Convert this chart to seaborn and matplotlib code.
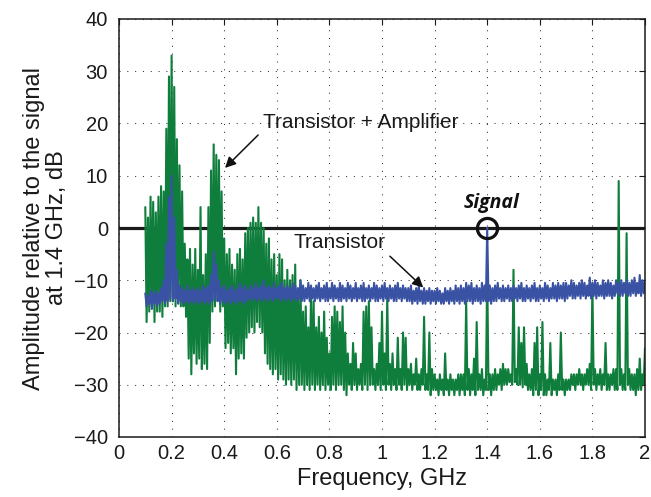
import numpy as np
import pandas as pd
import matplotlib
matplotlib.use("Agg")
import matplotlib.pyplot as plt
import seaborn as sns

# ---------------- data ----------------
freq = np.round(np.arange(10, 201) / 100.0, 2)  # GHz sampling grid 0.10 .. 2.00

green_hi = [
    4, 2, 6, 5, 3, 6, 8, 7, 19, 29,
    33, 27, 17, 12, 7, -3, -6, -4, -7, -4,
    -8, 4, -9, -5, 4, 11, 16, 14, 13, 7,
    -2, -5, -4, -7, -8, -5, -4, -6, -1, 0,
    1, 2, 1, 4, 1, 0, -3, -2, -6, -5,
    -9, -5, -6, -10, -8, -10, -9, -7, -12, -10,
    -16, -15, -19, -13, -14, -19, -17, -20, -16, -21,
    -24, -17, -15, -16, -18, -15, -20, -24, -26, -22,
    -24, -27, -26, -16, -15, -14, -19, -27, -26, -22,
    -16, -24, -13, -26, -24, -27, -21, -27, -20, -21,
    -27, -26, -28, -25, -28, -27, -17, -28, -20, -27,
    -28, -29, -28, -29, -24, -29, -28, -29, -29, -28,
    -28, -28, -14, -27, -28, -25, -18, -28, -27, -29,
    -8, -28, -28, -27, -28, -27, -26, -27, -27, -28,
    -8, -27, -19, -22, -19, -26, -28, -27, -22, -19,
    -28, -18, -28, -29, -22, -29, -29, -28, -20, -29,
    -29, -29, -28, -28, -28, -27, -28, -28, -27, -26,
    -11, -27, -28, -27, -28, -22, -28, -28, -27, -27,
    9, -27, -28, -1, -27, -28, -28, -27, -25, -28,
    -23,
]
green_lo = [
    -18, -16, -15, -18, -16, -16, -17, -15, -15, -14,
    -14, -15, -14, -15, -15, -17, -25, -28, -24, -26,
    -25, -27, -26, -27, -22, -16, -15, -14, -16, -15,
    -23, -22, -24, -23, -28, -25, -24, -25, -21, -20,
    -19, -20, -18, -19, -20, -24, -26, -27, -28, -27,
    -29, -28, -29, -30, -29, -30, -29, -31, -30, -30,
    -31, -30, -31, -30, -31, -30, -31, -30, -31, -30,
    -31, -30, -31, -30, -30, -31, -32, -30, -31, -30,
    -31, -30, -31, -30, -31, -30, -30, -31, -30, -31,
    -30, -31, -30, -31, -30, -31, -30, -31, -30, -31,
    -30, -31, -30, -31, -31, -30, -31, -31, -32, -31,
    -31, -32, -31, -32, -31, -32, -31, -32, -31, -32,
    -31, -32, -31, -32, -31, -32, -31, -31, -32, -31,
    -31, -32, -31, -31, -30, -31, -30, -30, -29.5, -30,
    -29.5, -30, -30, -30.5, -30, -31, -31, -32, -31, -32,
    -31, -32, -32, -31, -32, -31, -32, -31, -31, -32,
    -31, -31, -30, -31, -30, -30, -31, -30, -30, -31,
    -30, -31, -30, -31, -30, -31, -31, -30, -31, -31,
    -30, -31, -31, -30, -31, -31, -32, -31, -31, -30,
    -30,
]
blue_hi = [
    -12.5, -13, -12, -12.5, -12, -12.5, -11.5, -10, -3, 6,
    10, 2, -8, -11, -11.5, -12, -11, -12, -11.5, -12,
    -11.5, -12, -11, -11.5, -11, -9, -4.5, -7, -10, -11.5,
    -11, -12, -11.5, -11, -12, -11.5, -10.5, -11.5, -11, -12,
    -11, -11.5, -10.5, -11.5, -11, -10, -11.5, -11, -11.5, -10.5,
    -11.5, -11, -10.5, -11.5, -11, -11.5, -10.5, -11, -11.5, -10,
    -11, -11.5, -10.5, -11, -11.5, -11, -10.5, -11.5, -11, -10.5,
    -11.5, -10.5, -11, -11.5, -10.5, -11, -11.5, -10.5, -11, -11.5,
    -10.5, -11.5, -11, -10.5, -11.5, -11, -11.5, -10.5, -11, -11.5,
    -11, -10.5, -11.5, -11, -11.5, -11, -10.5, -11.5, -11, -11.5,
    -11.5, -11, -12, -11.5, -11, -12, -11.5, -12, -11.5, -12,
    -12, -11.5, -12, -12.5, -11.5, -12, -11.5, -12, -11, -11.5,
    -11, -11.5, -10.5, -11, -10.5, -11.5, -11, -11.5, -10.5, -11,
    0, -11, -11.5, -11, -10.5, -11.5, -11, -11.5, -11, -11.5,
    -11, -11.5, -11, -10.5, -11.5, -11, -11.5, -11, -10.5, -11.5,
    -11, -11.5, -10.5, -11, -11.5, -10.5, -11, -10.5, -11, -10.5,
    -10.5, -11, -10, -10.5, -11, -10.5, -10, -10.5, -11, -9.5,
    -10.5, -10, -10.5, -11, -10, -10.5, -10, -10.5, -11, -10,
    -10.5, -10, -10.5, -10, -10.5, -10, -9.5, -10.5, -9, -10,
    -10,
]
blue_lo = [
    -15, -14.5, -15.5, -14.5, -15, -14.5, -14, -14.5, -14, -13.5,
    -14, -13.5, -14.5, -14, -14.5, -14, -14.5, -14, -14.5, -14,
    -14.5, -14, -14.5, -14, -14.5, -14, -13.5, -14, -14.5, -14,
    -14.5, -14, -14.5, -14, -14.5, -14, -14, -14.5, -14, -13.5,
    -14, -13.5, -14, -13.5, -14, -13.5, -14, -13.5, -14, -13.5,
    -13.5, -14, -13.5, -14, -13.5, -14, -13.5, -14, -13.5, -14,
    -14, -13.5, -14, -13.5, -14, -13.5, -14, -13.5, -14, -14,
    -13.5, -14, -13.5, -14, -14, -13.5, -14, -13.5, -14, -13.5,
    -14, -13.5, -14, -14, -13.5, -14, -13.5, -14, -14, -13.5,
    -14, -13.5, -14, -13.5, -14, -14, -13.5, -14, -13.5, -14,
    -14, -14.5, -14, -14.5, -14, -14.5, -14.5, -14, -14.5, -14,
    -14.5, -14, -14.5, -14.5, -14, -14.5, -14, -14.5, -14, -14.5,
    -14, -14.5, -14, -14, -14.5, -14, -14, -14.5, -14, -14,
    -14, -14.5, -14, -14, -13.5, -14, -14, -13.5, -14, -14,
    -13.5, -14, -13.5, -14, -14, -13.5, -14, -13.5, -14, -14,
    -13.5, -14, -13.5, -14, -13.5, -13.5, -14, -13.5, -13.5, -14,
    -13.5, -13, -13.5, -13.5, -13, -13.5, -13, -13.5, -13, -13.5,
    -13, -13.5, -13, -13, -13.5, -13, -13, -13.5, -13, -12.5,
    -13, -13, -12.5, -13, -13, -12.5, -13, -12.5, -13, -12.5,
    -13,
]

series_names = ["Transistor + Amplifier", "Transistor"]
xticks = [0, 0.2, 0.4, 0.6, 0.8, 1, 1.2, 1.4, 1.6, 1.8, 2]
xticklabels = ["0", "0.2", "0.4", "0.6", "0.8", "1", "1.2", "1.4", "1.6", "1.8", "2"]
yticks = [-40, -30, -20, -10, 0, 10, 20, 30, 40]
signal_freq, signal_db = 1.4, 0.0

# ---------------- build long-form table ----------------
def trace(name, hi, lo):
    hi = np.asarray(hi, float)
    lo = np.asarray(lo, float)
    x = np.empty(2 * len(freq))
    y = np.empty(2 * len(freq))
    x[0::2] = freq
    x[1::2] = freq + 0.005
    y[0::2] = hi
    y[1::2] = lo
    return pd.DataFrame({"freq": x, "db": y, "series": name})

df = pd.concat([trace(series_names[0], green_hi, green_lo),
                trace(series_names[1], blue_hi, blue_lo)], ignore_index=True)

# ---------------- style ----------------
sns.set_style("white")
plt.rcParams["font.family"] = ["Liberation Sans", "DejaVu Sans"]

fig = plt.figure(figsize=(6.51, 4.97), dpi=100)
ax = fig.add_axes([119 / 651, 1 - 437 / 497, (645 - 119) / 651, (437 - 19) / 497])

palette = {series_names[0]: "#0f7d3b", series_names[1]: "#3a52a3"}
sns.lineplot(data=df[df.series == series_names[0]], x="freq", y="db", color=palette[series_names[0]],
             sort=False, estimator=None, linewidth=1.5, legend=False, ax=ax)
sns.lineplot(data=df[df.series == series_names[1]], x="freq", y="db", color=palette[series_names[1]],
             sort=False, estimator=None, linewidth=1.5, legend=False, ax=ax)

ax.axhline(0, color="#1a1a1a", lw=2.3, zorder=1.5)
ax.plot([signal_freq], [signal_db], marker="o", ms=14.5, mfc="none", mec="#111111",
        mew=2.3, zorder=5)

ax.set_xlim(0, 2)
ax.set_ylim(-40, 40)
ax.set_xticks(xticks)
ax.set_xticklabels(xticklabels)
ax.set_yticks(yticks)
ax.grid(True, linestyle=(0, (1, 6.5)), color="#333333", lw=0.75)
ax.set_axisbelow(True)
for s in ax.spines.values():
    s.set_color("#1a1a1a")
    s.set_linewidth(1.1)
    s.set_visible(True)
ax.tick_params(direction="in", length=4, width=0.8, top=True, right=True,
               labelsize=14.5, colors="#1a1a1a")
ax.tick_params(axis="y", pad=8)
ax.tick_params(axis="x", pad=5)

ax.set_xlabel("Frequency, GHz", fontsize=17, color="#1a1a1a", labelpad=4)
ax.set_ylabel("Amplitude relative to the signal\nat 1.4 GHz, dB", fontsize=17,
              color="#1a1a1a", labelpad=4, linespacing=1.05)

ax.text(0.548, 20.1, "Transistor + Amplifier", fontsize=15, ha="left", va="center",
        color="#1a1a1a")
ax.annotate("", xy=(0.403, 11.5), xytext=(0.529, 17.8),
            arrowprops=dict(arrowstyle="-|>", color="#111111", lw=1.1,
                            mutation_scale=16, shrinkA=0, shrinkB=0))
ax.text(0.662, -2.7, "Transistor", fontsize=15, ha="left", va="center", color="#1a1a1a")
ax.annotate("", xy=(1.157, -11.4), xytext=(1.03, -5.4),
            arrowprops=dict(arrowstyle="-|>", color="#111111", lw=1.1,
                            mutation_scale=16, shrinkA=0, shrinkB=0))
ax.text(1.415, 4.8, "Signal", fontsize=14, ha="center", va="center", color="#111111",
        fontweight="bold", fontstyle="italic", family=["Open Sans", "DejaVu Sans"])

fig.savefig("out.png", dpi=100)
